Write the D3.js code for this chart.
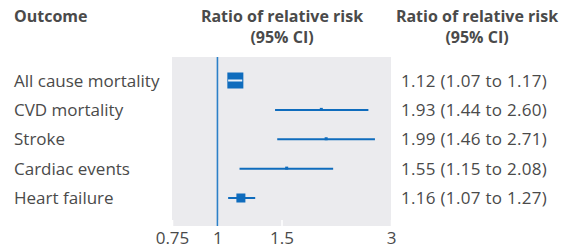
<!DOCTYPE html>
<html>
<head>
<meta charset="utf-8">
<script src="https://cdn.jsdelivr.net/npm/d3@7"></script>
<style>
body { margin: 0; background: #fff; }
svg text { font-family: "Open Sans", "Noto Sans", sans-serif; fill: #4a4a4a; }
</style>
</head>
<body>
<svg width="574" height="252"></svg>
<script>
// forest plot data
var outcomes = ["All cause mortality", "CVD mortality", "Stroke", "Cardiac events", "Heart failure"];
var ratio = [1.12, 1.93, 1.99, 1.55, 1.16];
var lower = [1.07, 1.44, 1.46, 1.15, 1.07];
var upper = [1.17, 2.60, 2.71, 2.08, 1.27];
var boxSize = [16, 3, 3, 3, 9];
var tickVals = [0.75, 1, 1.5, 3];

var blue = "#0f6cbd";

var svg = d3.select("svg");

var panel = { left: 172, right: 391, top: 57, bottom: 226 };

var x = d3.scaleLog()
    .domain([0.75, 3])
    .range([panel.left, panel.right]);

var y = d3.scalePoint()
    .domain(outcomes)
    .range([80.5, 198])
    .padding(0);

svg.append("rect")
    .attr("x", panel.left)
    .attr("y", panel.top)
    .attr("width", panel.right - panel.left)
    .attr("height", panel.bottom - panel.top)
    .attr("fill", "#ebebee");

// axis: small white ticks inside the panel
var axis = svg.append("g")
    .attr("transform", "translate(0," + panel.bottom + ")")
    .call(d3.axisBottom(x).tickValues(tickVals).tickSize(-6).tickPadding(6)
        .tickFormat(function(d) { return d; }));
axis.select(".domain").remove();
axis.selectAll(".tick line").attr("stroke", "#fff").attr("stroke-width", 1.5);
axis.selectAll(".tick text")
    .attr("font-size", 17)
    .attr("fill", "#4a4a4a")
    .attr("font-family", "'Open Sans', sans-serif");

// reference line at 1
svg.append("line")
    .attr("x1", x(1)).attr("x2", x(1))
    .attr("y1", panel.top).attr("y2", panel.bottom)
    .attr("stroke", "#2b80c8")
    .attr("stroke-width", 1.6);

var rows = outcomes.map(function(d, i) {
    return { name: d, r: ratio[i], lo: lower[i], hi: upper[i], s: boxSize[i] };
});

var g = svg.selectAll(".row").data(rows).enter().append("g").attr("class", "row");

g.append("line")
    .attr("x1", function(d) { return x(d.lo); })
    .attr("x2", function(d) { return x(d.hi); })
    .attr("y1", function(d) { return y(d.name); })
    .attr("y2", function(d) { return y(d.name); })
    .attr("stroke", blue)
    .attr("stroke-width", 2);

g.append("rect")
    .attr("x", function(d) { return x(d.r) - d.s / 2; })
    .attr("y", function(d) { return y(d.name) - d.s / 2 - (d.s < 5 ? 0.5 : 0); })
    .attr("width", function(d) { return d.s; })
    .attr("height", function(d) { return d.s; })
    .attr("fill", blue);

// CI fully inside the box -> draw it white on top
g.filter(function(d) { return x(d.r) - d.s / 2 < x(d.lo) && x(d.r) + d.s / 2 > x(d.hi); })
    .append("line")
    .attr("x1", function(d) { return x(d.lo); })
    .attr("x2", function(d) { return x(d.hi); })
    .attr("y1", function(d) { return y(d.name); })
    .attr("y2", function(d) { return y(d.name); })
    .attr("stroke", "#e8f1fa")
    .attr("stroke-width", 2);

g.append("text")
    .attr("x", 14)
    .attr("y", function(d) { return y(d.name) + 6; })
    .attr("font-size", 17)
    .text(function(d) { return d.name; });

g.append("text")
    .attr("x", 401)
    .attr("y", function(d) { return y(d.name) + 6; })
    .attr("font-size", 17)
    .attr("letter-spacing", 0.3)
    .text(function(d) { return d.r.toFixed(2) + " (" + d.lo.toFixed(2) + " to " + d.hi.toFixed(2) + ")"; });

// headers
svg.append("text")
    .attr("x", 14).attr("y", 22)
    .attr("font-size", 16).attr("font-weight", "bold")
    .text("Outcome");

[282, 477].forEach(function(cx) {
    var t = svg.append("text")
        .attr("x", cx).attr("y", 22)
        .attr("text-anchor", "middle")
        .attr("font-size", 16).attr("font-weight", "bold");
    t.append("tspan").attr("x", cx).text("Ratio of relative risk");
    t.append("tspan").attr("x", cx).attr("dy", 21).text("(95% CI)");
});
</script>
</body>
</html>
